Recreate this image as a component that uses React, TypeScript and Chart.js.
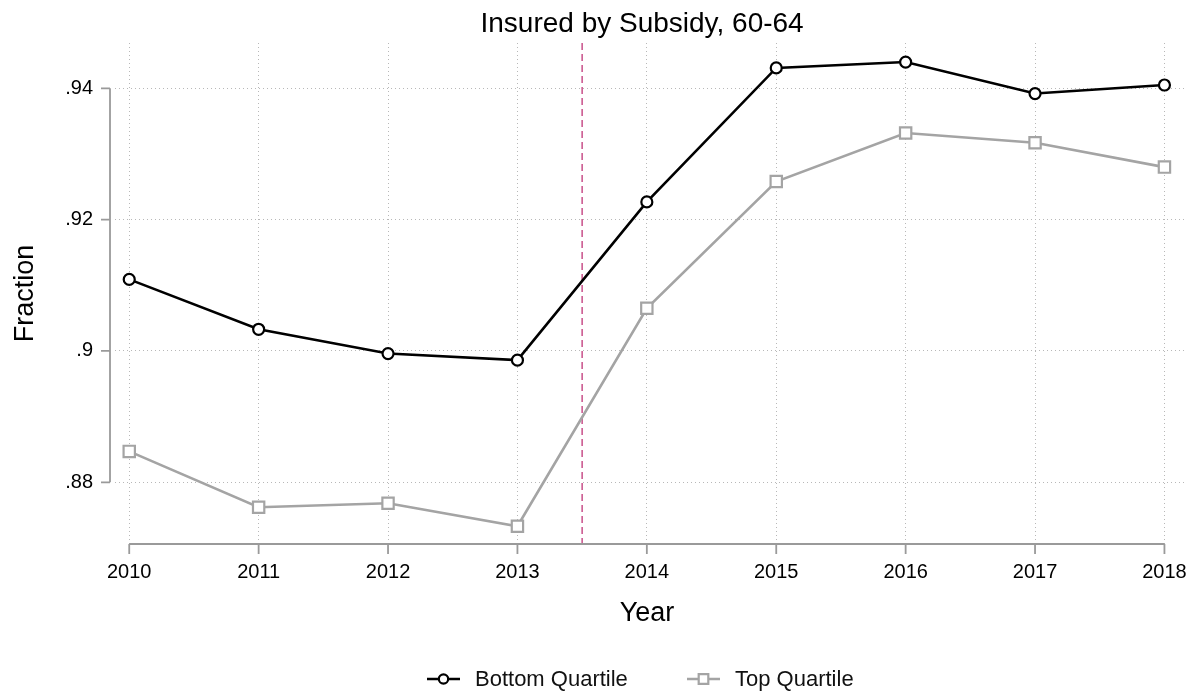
import React, { useEffect, useRef } from "react";
import { Chart, registerables } from "chart.js";

Chart.register(...registerables);

const years = [2010, 2011, 2012, 2013, 2014, 2015, 2016, 2017, 2018];
const bottomQuartile = [0.9109, 0.9033, 0.8996, 0.8986, 0.9227, 0.9431, 0.944, 0.9392, 0.9405];
const topQuartile = [0.8847, 0.8762, 0.8768, 0.8733, 0.9065, 0.9258, 0.9332, 0.9317, 0.928];
const yTicks = [0.88, 0.9, 0.92, 0.94];
const xTicks = years;
const reformLine = 2013.5;
const titleText = "Insured by Subsidy, 60-64";
const xTitle = "Year";
const yTitle = "Fraction";
const seriesNames = ["Bottom Quartile", "Top Quartile"];

const FONT = "'Liberation Sans', Arial, Helvetica, sans-serif";
const AXIS_COLOR = "#9a9a9a";

const overlayPlugin = {
  id: "stataOverlay",
  beforeDatasetsDraw(chart: any) {
    const { ctx, chartArea, scales } = chart;
    const x = scales.x;
    const y = scales.y;
    ctx.save();
    const rx = x.getPixelForValue(reformLine);
    ctx.strokeStyle = "#c8508a";
    ctx.lineWidth = 1.5;
    ctx.setLineDash([7, 4]);
    ctx.beginPath();
    ctx.moveTo(rx, chartArea.top);
    ctx.lineTo(rx, chartArea.bottom);
    ctx.stroke();
    ctx.setLineDash([]);

    ctx.strokeStyle = AXIS_COLOR;
    ctx.lineWidth = 1.8;
    const axX = chartArea.left - 5;
    const yTop = y.getPixelForValue(yTicks[yTicks.length - 1]);
    const yBot = y.getPixelForValue(yTicks[0]);
    ctx.beginPath();
    ctx.moveTo(axX, yTop);
    ctx.lineTo(axX, yBot);
    for (const t of yTicks) {
      const py = y.getPixelForValue(t);
      ctx.moveTo(axX - 9, py);
      ctx.lineTo(axX, py);
    }
    ctx.stroke();

    const axY = chartArea.bottom;
    const xl = x.getPixelForValue(xTicks[0]);
    const xr = x.getPixelForValue(xTicks[xTicks.length - 1]);
    ctx.beginPath();
    ctx.moveTo(xl, axY);
    ctx.lineTo(xr, axY);
    for (const t of xTicks) {
      const px = x.getPixelForValue(t);
      ctx.moveTo(px, axY);
      ctx.lineTo(px, axY + 10);
    }
    ctx.stroke();
    ctx.restore();
  },
  afterDraw(chart: any) {
    const { ctx, chartArea } = chart;
    ctx.save();
    ctx.fillStyle = "#000";
    const cx = (chartArea.left + chartArea.right) / 2 - 3;
    ctx.font = `28px ${FONT}`;
    ctx.textAlign = "center";
    ctx.textBaseline = "alphabetic";
    ctx.fillText(titleText, cx - 5, 32);
    ctx.font = `27px ${FONT}`;
    ctx.fillText(xTitle, cx, 621);
    ctx.save();
    ctx.translate(33, (chartArea.top + chartArea.bottom) / 2);
    ctx.rotate(-Math.PI / 2);
    ctx.fillText(yTitle, 0, 0);
    ctx.restore();

    const legendY = 679;
    const starts = [427, 687];
    chart.data.datasets.forEach((ds: any, i: number) => {
      const x0 = starts[i];
      ctx.strokeStyle = ds.borderColor;
      ctx.lineWidth = ds.borderWidth;
      ctx.beginPath();
      ctx.moveTo(x0, legendY);
      ctx.lineTo(x0 + 33, legendY);
      ctx.stroke();
      ctx.fillStyle = "#fff";
      ctx.lineWidth = ds.pointBorderWidth;
      ctx.strokeStyle = ds.borderColor;
      const mx = x0 + 16.5;
      ctx.beginPath();
      if (ds.pointStyle === "rect") {
        const s = ds.pointRadius * Math.SQRT1_2 * 0.85;
        ctx.rect(mx - s, legendY - s, 2 * s, 2 * s);
      } else {
        ctx.arc(mx, legendY, ds.pointRadius * 0.85, 0, Math.PI * 2);
      }
      ctx.fill();
      ctx.stroke();
      ctx.fillStyle = "#111";
      ctx.font = `22px ${FONT}`;
      ctx.textAlign = "left";
      ctx.fillText(ds.label, x0 + 48, 686);
    });
    ctx.restore();
  },
};

export default function App() {
  const canvasRef = useRef<HTMLCanvasElement | null>(null);

  useEffect(() => {
    if (!canvasRef.current) return;
    const chart = new Chart(canvasRef.current, {
      type: "line",
      data: {
        datasets: [
          {
            label: seriesNames[0],
            data: years.map((yr, i) => ({ x: yr, y: bottomQuartile[i] })),
            borderColor: "#000000",
            backgroundColor: "#ffffff",
            borderWidth: 2.6,
            pointStyle: "circle",
            pointRadius: 5.5,
            pointBorderWidth: 2.2,
            pointBackgroundColor: "#ffffff",
            pointBorderColor: "#000000",
            tension: 0,
          },
          {
            label: seriesNames[1],
            data: years.map((yr, i) => ({ x: yr, y: topQuartile[i] })),
            borderColor: "#a4a4a4",
            backgroundColor: "#ffffff",
            borderWidth: 2.6,
            pointStyle: "rect",
            pointRadius: 8,
            pointBorderWidth: 2.2,
            pointBackgroundColor: "#ffffff",
            pointBorderColor: "#a4a4a4",
            tension: 0,
          },
        ],
      },
      options: {
        animation: false,
        responsive: true,
        maintainAspectRatio: false,
        layout: { padding: { top: 43, right: 16, left: 0, bottom: 0 } },
        plugins: {
          legend: { display: false },
          title: { display: false },
          tooltip: { enabled: false },
        },
        scales: {
          x: {
            type: "linear",
            min: 2009.89,
            max: 2018.16,
            afterBuildTicks: (s: any) => {
              s.ticks = xTicks.map((v) => ({ value: v }));
            },
            afterFit: (s: any) => {
              s.height = 152;
            },
            border: { display: false, dash: [1, 3] },
            grid: { color: "#b8b8b8", lineWidth: 1, drawTicks: false },
            ticks: {
              color: "#000",
              font: { family: FONT, size: 20 },
              padding: 16,
              maxRotation: 0,
              autoSkip: false,
              callback: (v: any) => String(v),
            },
          },
          y: {
            type: "linear",
            min: 0.8706,
            max: 0.9469,
            afterBuildTicks: (s: any) => {
              s.ticks = yTicks.map((v) => ({ value: v }));
            },
            afterFit: (s: any) => {
              s.width = 115;
            },
            border: { display: false, dash: [1, 3] },
            grid: { color: "#b8b8b8", lineWidth: 1, drawTicks: false },
            ticks: {
              color: "#000",
              font: { family: FONT, size: 20 },
              padding: 22,
              autoSkip: false,
              callback: (v: any) => String(v).replace(/^0/, ""),
            },
          },
        },
      },
      plugins: [overlayPlugin],
    } as any);
    return () => chart.destroy();
  }, []);

  return (
    <div style={{ position: "absolute", left: 0, top: 0, width: 1203, height: 696, background: "#fff" }}>
      <canvas ref={canvasRef} />
    </div>
  );
}
